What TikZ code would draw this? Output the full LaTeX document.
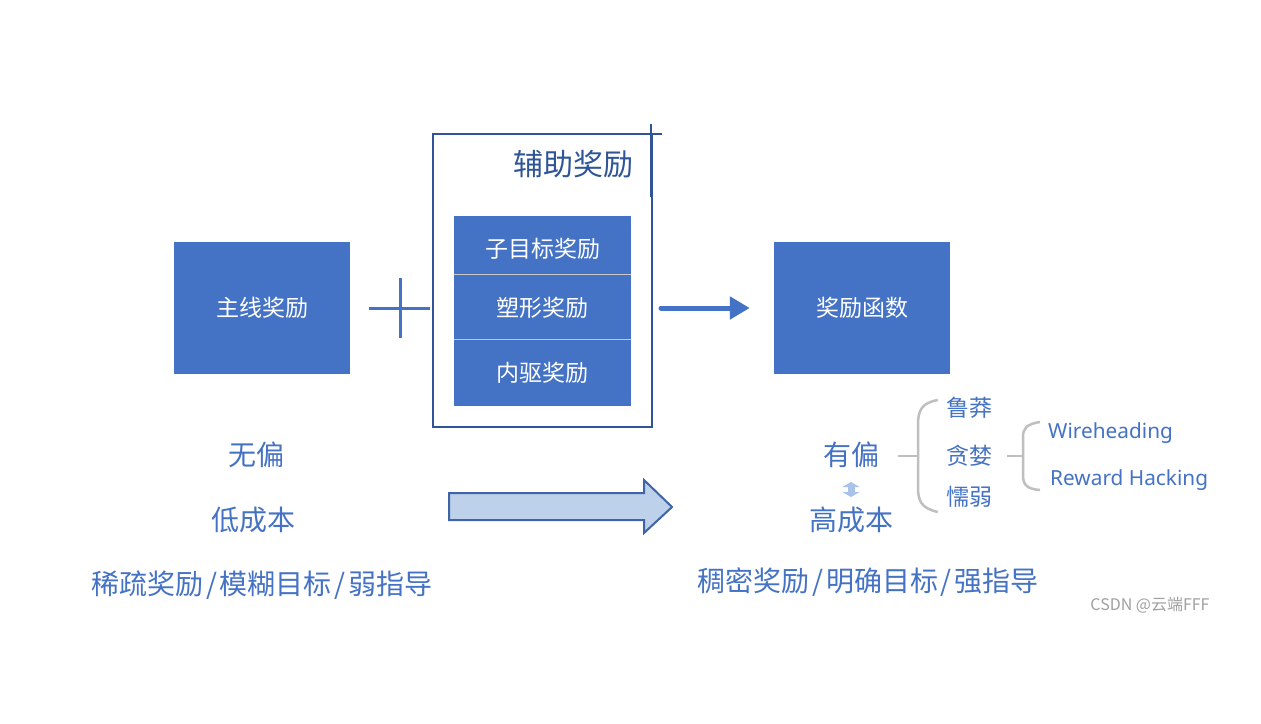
\documentclass[tikz,border=0pt]{standalone}
\usepackage{fontspec}
\setmainfont{Noto Sans CJK SC}
\newfontfamily\latinfont{Noto Sans}
\usetikzlibrary{calc,arrows.meta}
\definecolor{mblue}{HTML}{4472C4}
\definecolor{dblue}{HTML}{2F5597}
\definecolor{lblue}{HTML}{BDD1EA}
\definecolor{ablue}{HTML}{3F64A8}
\definecolor{sblue}{HTML}{A9C2E8}
\definecolor{bgray}{HTML}{BFBFBF}
\definecolor{wgray}{HTML}{A0A0A0}
\definecolor{sepgray}{HTML}{C8C8C8}
\begin{document}
\begin{tikzpicture}[x=1pt,y=-1pt,
  bluebox/.style={fill=mblue, draw=none, text=white, font=\fontsize{23}{28}\selectfont, inner sep=0pt},
  lbl/.style={text=mblue, font=\fontsize{28}{34}\selectfont, inner sep=0pt},
  sublbl/.style={text=mblue, font=\fontsize{23}{28}\selectfont, inner sep=0pt},
  enlbl/.style={text=mblue, font=\latinfont\fontsize{20.8}{25}\selectfont, inner sep=0pt, anchor=west},
  brk/.style={draw=bgray, line width=2.5pt},
  sep/.style={draw=sepgray, line width=1pt},
]
\useasboundingbox (0,0) rectangle (1261,723);
\fill[white] (0,0) rectangle (1261,723);

% left main box
\node[bluebox, minimum width=176, minimum height=132] (main) at (262,308) {主线奖励};

% plus sign
\draw[mblue, line width=3pt] (369,308) -- (430,308);
\draw[mblue, line width=3pt] (400,278) -- (400,338);

% auxiliary frame
\node[draw=dblue, line width=2pt, minimum width=219, minimum height=293, inner sep=0pt] (aux) at (542.5,280.5) {};
\draw[dblue, line width=2pt] (486,134) -- (662,134);
\draw[dblue, line width=2pt] (651,124) -- (651,197);
\node[text=dblue, font=\fontsize{30}{36}\selectfont, inner sep=0pt] (auxt) at (573,164) {辅助奖励};

% inner stacked boxes
\node[bluebox, minimum width=177, minimum height=58] (sub) at (542.5,245) {\raisebox{-4pt}[\height][\depth]{子目标奖励}};
\node[bluebox, minimum width=177, minimum height=65] (shp) at (542.5,306.5) {\raisebox{-1.5pt}[\height][\depth]{塑形奖励}};
\node[bluebox, minimum width=177, minimum height=67] (intr) at (542.5,372.5) {内驱奖励};
\draw[sep] (sub.south west) -- (sub.south east);
\draw[sep] (shp.south west) -- (shp.south east);

% right function box
\node[bluebox, minimum width=176, minimum height=132] (func) at (862,308) {奖励函数};

% arrow
\draw[mblue, line width=5pt, line cap=round, -{Triangle[length=20pt,width=22pt]}, shorten <=8pt, shorten >=24pt]
  (aux.east |- func.west) -- (func.west);

% bottom-left labels
\node[lbl] (wupian) at (256,455) {无偏};
\node[lbl] (dicb) at (253,520) {低成本};
\node[lbl] (xishu) at (262,585) {稀疏奖励\kern3pt/\kern3pt模糊目标\kern3pt/\kern3pt弱指导};

% big arrow
\filldraw[fill=lblue, draw=ablue, line width=2pt]
  (449,493) -- (644,493) -- (644,480) -- (672,507) -- (644,533) -- (644,520) -- (449,520) -- cycle;

% bottom-right labels
\node[lbl] (youpian) at (851,455) {有偏};
\node[lbl] (gaocb) at (851,520) {高成本};
\node[lbl] (chou) at (868,582) {稠密奖励\kern3pt/\kern3pt明确目标\kern3pt/\kern3pt强指导};
\coordinate (dA) at (851,482);
\coordinate (dB) at (851,497);
\draw[sblue, line width=7pt, {Triangle[length=5pt,width=17pt]}-{Triangle[length=5pt,width=17pt]}] (dA) -- (dB);

% first bracket
\node[sublbl] (lumang) at (969,408) {鲁莽};
\node[sublbl] (tanlan) at (969,456) {贪婪};
\node[sublbl] (nuoruo) at (969,497) {懦弱};
\coordinate (b1) at (918,456);
\draw[brk] ($(youpian.east)+(19,1)$) -- (b1);
\draw[brk] ($(lumang.west)+(-8,-8)$) .. controls (921,403) and (918,411) .. (918,425) -- (918,487)
  .. controls (918,501) and (921,508) .. ($(nuoruo.west)+(-8,15)$);

% second bracket
\node[enlbl] (wire) at (1048,433) {Wireheading};
\node[enlbl] (hack) at (1050,480) {Reward Hacking};
\coordinate (b2) at (1023,456);
\draw[brk] ($(tanlan.east)+(15,0)$) -- (b2);
\draw[brk] ($(wire.west)+(-8,-11)$) .. controls (1026,424) and (1023,429) .. (1023,437) -- (1023,475)
  .. controls (1023,484) and (1026,489) .. ($(hack.west)+(-10,10)$);

% watermark
\node[text=wgray, font=\fontsize{16}{19}\selectfont, inner sep=0pt] (wm) at (1150,605) {CSDN @云端FFF};
\end{tikzpicture}
\end{document}
